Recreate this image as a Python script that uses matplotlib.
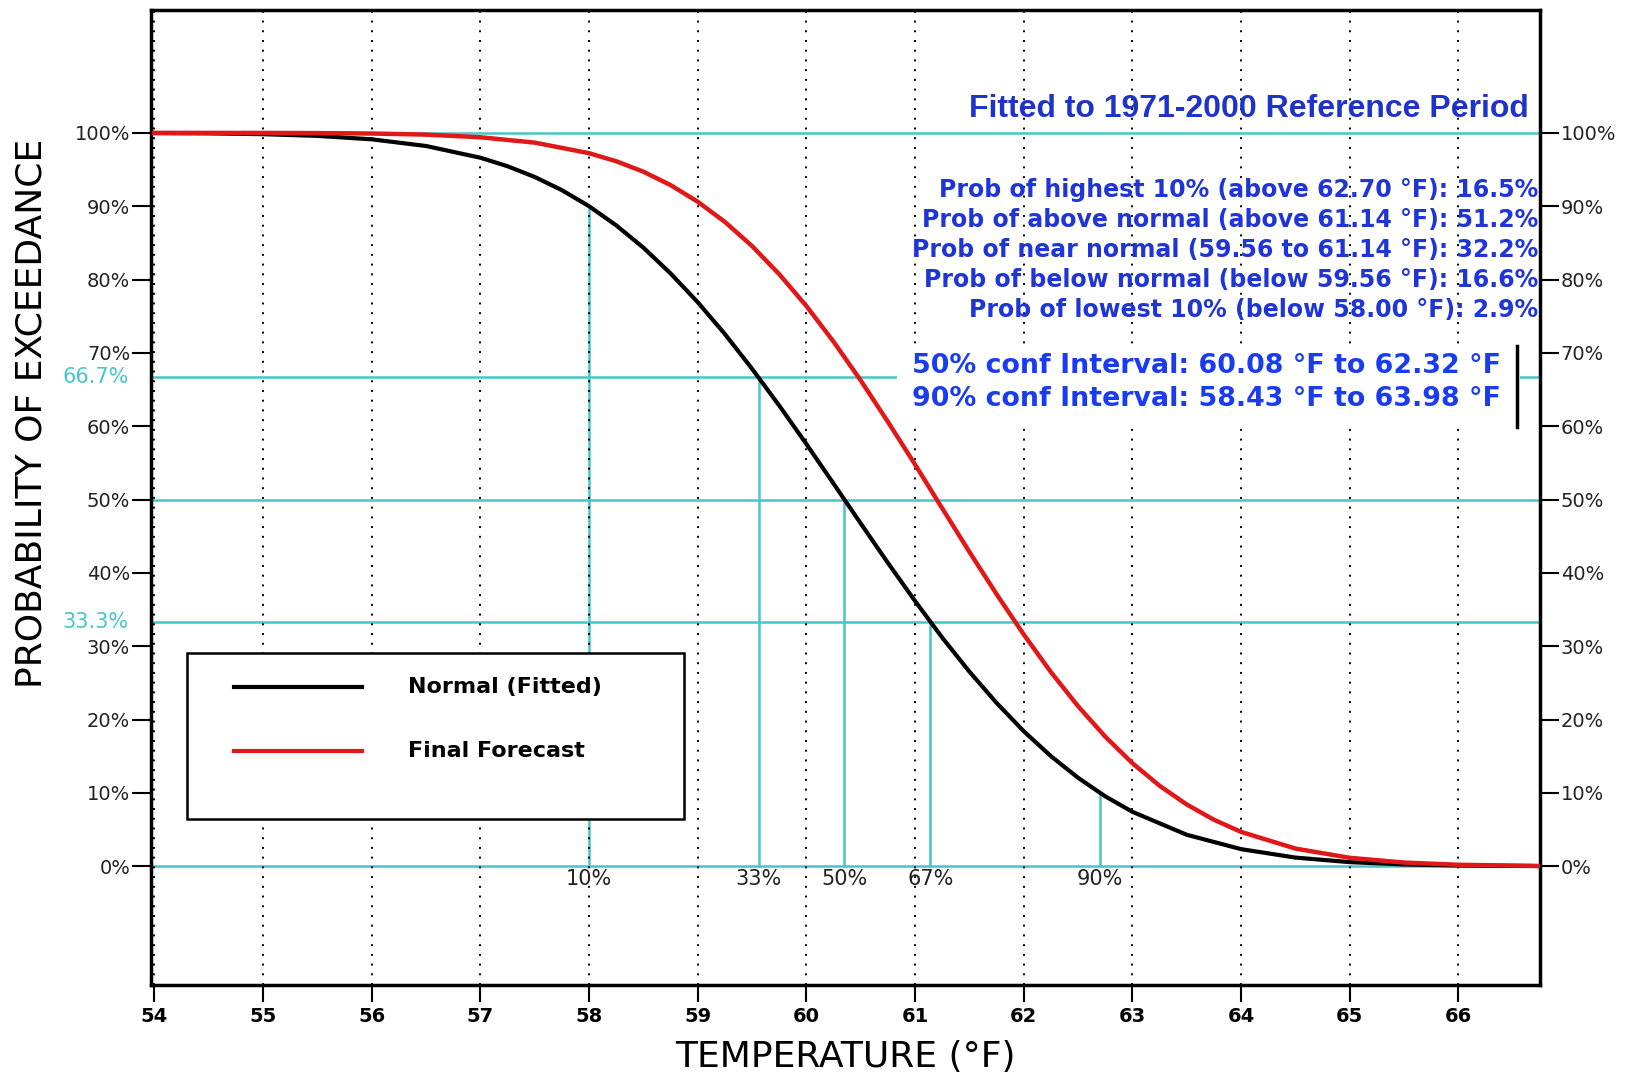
import matplotlib
matplotlib.use("Agg")
import matplotlib.pyplot as plt
from matplotlib.patches import Rectangle

# exceedance curves (temperature F, probability %)
normal_x = [54, 54.5, 55, 55.5, 56, 56.5, 57, 57.25, 57.5, 57.75, 58, 58.25, 58.5, 58.75,
            59, 59.25, 59.5, 59.75, 60, 60.25, 60.5, 60.75, 61, 61.25, 61.5, 61.75, 62,
            62.25, 62.5, 62.75, 63, 63.5, 64, 64.5, 65, 65.5, 66, 66.75]
normal_p = [99.97, 99.93, 99.82, 99.59, 99.12, 98.21, 96.61, 95.45, 93.99, 92.19, 90.0,
            87.39, 84.35, 80.84, 76.91, 72.57, 67.83, 62.82, 57.57, 52.17, 46.74, 41.37,
            36.16, 31.17, 26.53, 22.27, 18.41, 15.01, 12.06, 9.53, 7.42, 4.29, 2.33, 1.18,
            0.56, 0.25, 0.10, 0.02]
fcst_x = [54, 55, 55.5, 56, 56.5, 57, 57.5, 58, 58.25, 58.5, 58.75, 59, 59.25, 59.5, 59.75,
          60, 60.25, 60.5, 60.75, 61, 61.25, 61.5, 61.75, 62, 62.25, 62.5, 62.75, 63, 63.25,
          63.5, 63.75, 64, 64.5, 65, 65.5, 66, 66.75]
fcst_p = [100.0, 99.99, 99.97, 99.91, 99.76, 99.40, 98.67, 97.23, 96.13, 94.71, 92.88,
          90.61, 87.86, 84.57, 80.73, 76.39, 71.53, 66.24, 60.60, 54.78, 48.80, 42.86,
          37.10, 31.60, 26.47, 21.82, 17.67, 14.05, 10.97, 8.42, 6.34, 4.68, 2.41, 1.15,
          0.50, 0.20, 0.04]

# percentile markers of the fitted normal
pct_x = [58.00, 59.56, 60.35, 61.14, 62.70]
pct_p = [90, 66.7, 50, 33.3, 10]
pct_labels = ["10%", "33%", "50%", "67%", "90%"]
hlines = [100, 66.7, 50, 33.3, 0]

xticks = list(range(54, 67))
yticks = list(range(0, 101, 10))

prob_lines = [
    "Prob of highest 10% (above 62.70 °F): 16.5%",
    "Prob of above normal (above 61.14 °F): 51.2%",
    "Prob of near normal (59.56 to 61.14 °F): 32.2%",
    "Prob of below normal (below 59.56 °F): 16.6%",
    "Prob of lowest 10% (below 58.00 °F): 2.9%",
]
conf_lines = [
    "50% conf Interval: 60.08 °F to 62.32 °F",
    "90% conf Interval: 58.43 °F to 63.98 °F",
]

cyan = "#45c6c8"
blue = "#1f35d6"

fig = plt.figure(figsize=(16.31, 10.82), dpi=100)
ax = fig.add_axes([0.0926, 0.0896, 0.8516, 0.9008])
ax.set_xlim(53.97, 66.75)
ax.set_ylim(-16.2, 116.7)

# dotted grid at whole degrees
for t in xticks:
    ax.axvline(t, color="black", lw=1.4, ls=(0, (1, 4)), zorder=1.5)

for h in hlines:
    ax.axhline(h, color=cyan, lw=1.8, zorder=1)
for x, p, lab in zip(pct_x, pct_p, pct_labels):
    ax.plot([x, x], [0, p], color=cyan, lw=1.8, zorder=1)
    ax.text(x, -1.8, lab, ha="center", va="center", fontsize=15, color="#222222")

ax.plot(normal_x, normal_p, color="black", lw=3, zorder=3)
ax.plot(fcst_x, fcst_p, color="#e01818", lw=3.2, zorder=3.1)

ax.set_xticks(xticks)
ax.set_xticklabels([str(t) for t in xticks], fontsize=14, fontweight="bold")
ax.set_yticks(yticks)
ax.set_yticklabels([f"{v}%" for v in yticks], fontsize=14)
ax.tick_params(axis="y", left=True, right=True, labelleft=True, labelright=True,
               direction="out", length=14, width=1.5, pad=1, labelcolor="#222222")
ax.tick_params(axis="x", direction="out", length=12, width=1.5, pad=4)
for s in ax.spines.values():
    s.set_linewidth(2.5)

# cyan tercile labels on the left
for v, lab in [(66.7, "66.7%"), (33.3, "33.3%")]:
    ax.text(-0.016, v, lab, transform=ax.get_yaxis_transform(), ha="right", va="center",
            fontsize=15, color=cyan)

ax.set_ylabel("PROBABILITY OF EXCEEDANCE", fontsize=26)
ax.yaxis.set_label_coords(-0.074, 0.587)
ax.set_xlabel("TEMPERATURE (°F)", fontsize=26, labelpad=10)

ax.text(66.65, 103.3, "Fitted to 1971-2000 Reference Period", ha="right", va="center",
        fontsize=23, fontweight="bold", color="#1e33c8", family="Liberation Sans", zorder=5)
for i, line in enumerate(prob_lines):
    ax.text(66.73, 92.2 - 4.1 * i, line, ha="right", va="center", fontsize=17,
            fontweight="bold", color=blue, zorder=5)

ax.add_patch(Rectangle((60.83, 59.7), 5.74, 11.4, facecolor="white", edgecolor="none", zorder=4))
ax.plot([66.54, 66.54], [59.9, 71.0], color="black", lw=2.5, zorder=5)
for i, line in enumerate(conf_lines):
    ax.text(60.97, 68.2 - 4.5 * i, line, ha="left", va="center", fontsize=19.4,
            fontweight="bold", color="#1a3cf0", zorder=5)

# legend box
ax.add_patch(Rectangle((0.026, 0.170), 0.358, 0.171, transform=ax.transAxes,
                       facecolor="white", edgecolor="black", lw=1.8, zorder=4))
ax.plot([0.060, 0.152], [0.306, 0.306], transform=ax.transAxes, color="black", lw=3, zorder=5)
ax.plot([0.060, 0.152], [0.240, 0.240], transform=ax.transAxes, color="#e01818", lw=3, zorder=5)
ax.text(0.185, 0.306, "Normal (Fitted)", transform=ax.transAxes, va="center", fontsize=16,
        fontweight="bold", zorder=5)
ax.text(0.185, 0.240, "Final Forecast", transform=ax.transAxes, va="center", fontsize=16,
        fontweight="bold", zorder=5)

fig.savefig("out.png", dpi=100)
